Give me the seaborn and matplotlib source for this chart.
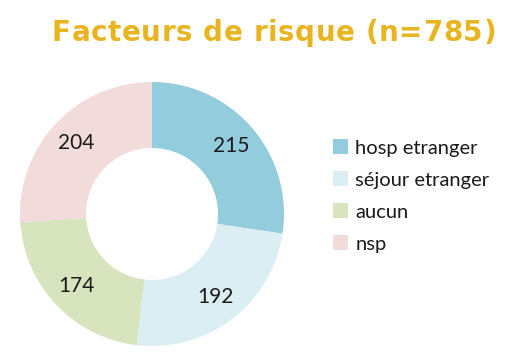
import matplotlib
matplotlib.use("Agg")
import matplotlib.pyplot as plt
import seaborn as sns
import numpy as np
from matplotlib.patches import Patch

categories = ["hosp etranger", "séjour etranger", "aucun", "nsp"]
values = [215, 192, 174, 204]
colors = ["#93CDDD", "#DBEEF4", "#D7E4BD", "#F2DCDB"]
title = "Facteurs de risque (n=785)"

sns.set_theme(style="white")
plt.rcParams['font.family'] = ['Lato', 'DejaVu Sans']

W, H = 525, 359
fig = plt.figure(figsize=(W / 100, H / 100), dpi=100)
cx, cy, R = 152, 214, 132
ax = fig.add_axes([(cx - R) / W, (H - cy - R) / H, 2 * R / W, 2 * R / H])
wedges, texts = ax.pie(values, colors=colors, startangle=90, counterclock=False,
                       radius=1.0, wedgeprops=dict(width=0.5, edgecolor='none'))
total = sum(values)
start = 90.0
for v in values:
    ang = np.deg2rad(start - v / total * 360 / 2)
    ax.text(0.79 * np.cos(ang), 0.79 * np.sin(ang), str(v), ha='center', va='center',
            fontsize=15, color='#1a1a1a')
    start -= v / total * 360
ax.set_xlim(-1, 1)
ax.set_ylim(-1, 1)
ax.set_aspect('equal')
ax.axis('off')

# Title with letter spacing, drawn char by char
renderer = fig.canvas.get_renderer()
tkw = dict(fontsize=20, fontweight='bold', color='#E8B420', family=['DejaVu Sans'],
           va='baseline', ha='left')
spacing = 0.6  # px between letters
widths = []
for ch in title:
    if ch == ' ':
        t = fig.text(0, 0, 'a a', **tkw)
        wa = fig.text(0, 0, 'aa', **tkw)
        w = t.get_window_extent(renderer).width - wa.get_window_extent(renderer).width
        t.remove(); wa.remove()
    else:
        t = fig.text(0, 0, ch, **tkw)
        w = t.get_window_extent(renderer).width
        t.remove()
    widths.append(w)
total_w = sum(widths) + spacing * (len(title) - 1)
x = 274 - total_w / 2
base_y = 41
for ch, w in zip(title, widths):
    if ch != ' ':
        fig.text(x / W, 1 - base_y / H, ch, **tkw)
    x += w + spacing

handles = [Patch(facecolor=c, edgecolor='none') for c in colors]
fig.legend(handles, categories, loc='center left', bbox_to_anchor=(315 / W, 1 - 196 / H),
           frameon=False, fontsize=14.5, handlelength=0.75, handleheight=0.75,
           handletextpad=0.35, labelspacing=0.72, labelcolor='#1a1a1a')

fig.savefig("out.png", dpi=100)
